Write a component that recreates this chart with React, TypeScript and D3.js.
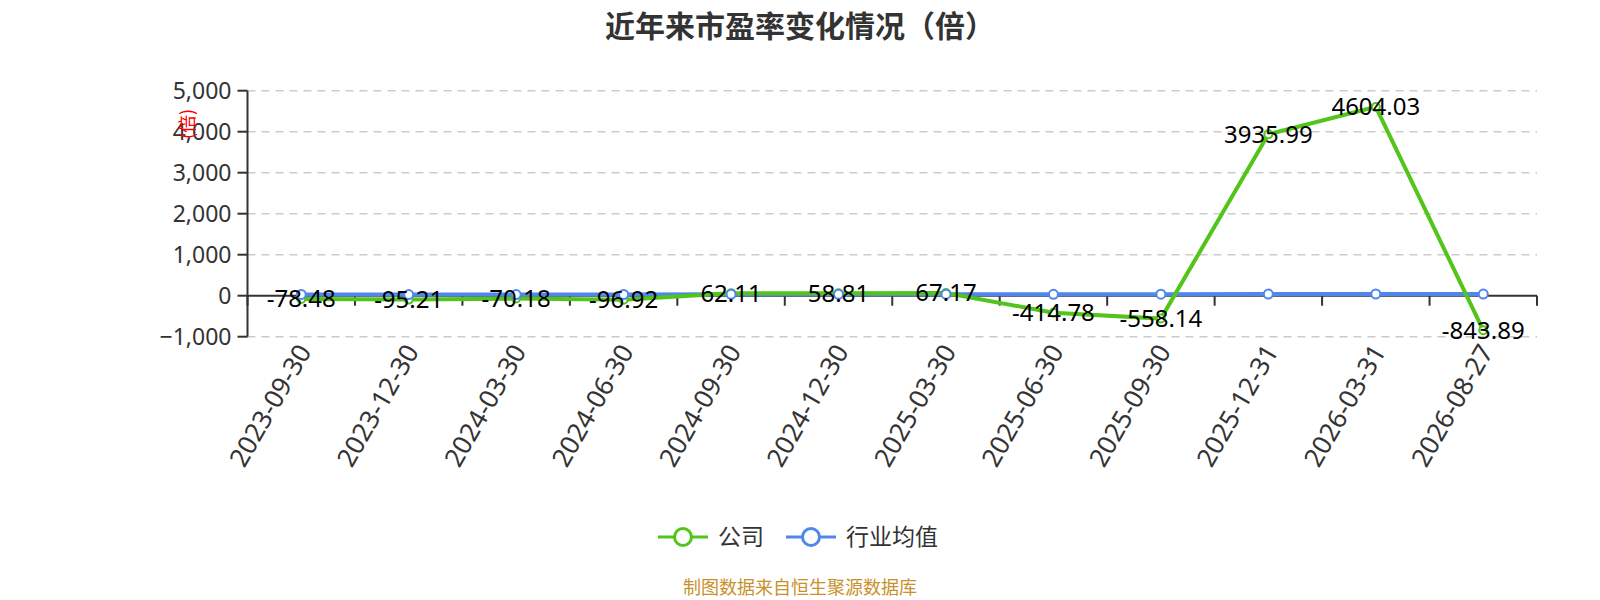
import React from "react";
import * as d3 from "d3";

const categories = [
  "2023-09-30", "2023-12-30", "2024-03-30", "2024-06-30", "2024-09-30", "2024-12-30",
  "2025-03-30", "2025-06-30", "2025-09-30", "2025-12-31", "2026-03-31", "2026-08-27",
];
const companyPE = [-78.48, -95.21, -70.18, -96.92, 62.11, 58.81, 67.17, -414.78, -558.14, 3935.99, 4604.03, -843.89];
const industryPE = [30.5, 28.7, 27.9, 29.4, 33.2, 35.1, 36.8, 34.6, 38.2, 40.1, 41.5, 39.8];
const yTicks = [-1000, 0, 1000, 2000, 3000, 4000, 5000];
const seriesNames = ["公司", "行业均值"];
const titleText = "近年来市盈率变化情况（倍）";
const footerText = "制图数据来自恒生聚源数据库";
const yAxisName = "(倍)";

const W = 1600;
const H = 600;
const GREEN = "#52c41a";
const BLUE = "#5087ec";
const FONT = "'Noto Sans', 'Noto Sans CJK SC', sans-serif";
const CJK = "'Noto Sans CJK SC', 'Noto Sans', sans-serif";

export default function App() {
  const left = 247.5;
  const right = 1537;
  const top = 90.7;
  const bottom = 336.7;

  const x = d3.scaleBand<string>().domain(categories).range([left, right]).padding(0);
  const y = d3.scaleLinear().domain([-1000, 5000]).range([bottom, top]);
  const cx = (c: string) => (x(c) as number) + x.bandwidth() / 2;

  const line = d3
    .line<number>()
    .x((_, i) => cx(categories[i]))
    .y((d) => y(d));

  const fmt = d3.format(",");
  const y0 = y(0);
  const boundaries = categories.map((c) => x(c) as number).concat([right]);

  return (
    <svg
      width={W}
      height={H}
      style={{ position: "absolute", left: 0, top: 0, background: "#fff" }}
      fontFamily={FONT}
    >
      <text x={800} y={37} textAnchor="middle" fontSize={30} fontWeight="bold" fill="#333" fontFamily={CJK}>
        {titleText}
      </text>

      {/* grid lines */}
      {yTicks.filter((t) => t !== 0).map((t) => (
        <line key={t} x1={left} x2={right} y1={y(t)} y2={y(t)} stroke="#ccc" strokeWidth={1.5} strokeDasharray="8,6" />
      ))}

      {/* y axis */}
      <line x1={left} x2={left} y1={top} y2={bottom} stroke="#333" strokeWidth={2} />
      {yTicks.map((t) => (
        <g key={t}>
          <line x1={left - 10} x2={left} y1={y(t)} y2={y(t)} stroke="#333" strokeWidth={2} />
          <text x={left - 16} y={y(t)} dy="0.35em" textAnchor="end" fontSize={23} fill="#333">
            {fmt(t)}
          </text>
        </g>
      ))}
      <text
        transform={`translate(188, 124) rotate(-90)`}
        textAnchor="middle"
        dy="0.35em"
        fontSize={18}
        fill="#ff0000"
        fontFamily={CJK}
      >
        {yAxisName}
      </text>

      {/* x axis at zero */}
      <line x1={left} x2={right} y1={y0} y2={y0} stroke="#333" strokeWidth={2} />
      {boundaries.map((b, i) => (
        <line key={i} x1={b} x2={b} y1={y0} y2={y0 + 10} stroke="#333" strokeWidth={2} />
      ))}
      {categories.map((c) => (
        <text
          key={c}
          transform={`translate(${cx(c) + 3}, ${bottom + 10}) rotate(-60)`}
          textAnchor="end"
          dy="0.35em"
          fontSize={26}
          fill="#333"
        >
          {c}
        </text>
      ))}

      {/* lines */}
      <path d={line(industryPE) || ""} fill="none" stroke={BLUE} strokeWidth={4} />
      <path d={line(companyPE) || ""} fill="none" stroke={GREEN} strokeWidth={4} />
      {companyPE.map((v, i) => (
        <circle key={"g" + i} cx={cx(categories[i])} cy={y(v)} r={4} fill="#fff" stroke={GREEN} strokeWidth={2} />
      ))}
      {industryPE.map((v, i) => (
        <circle key={"b" + i} cx={cx(categories[i])} cy={y(v)} r={4.5} fill="#fff" stroke={BLUE} strokeWidth={2} />
      ))}
      {companyPE.map((v, i) => (
        <text key={"l" + i} x={cx(categories[i])} y={y(v)} dy="0.35em" textAnchor="middle" fontSize={24} fill="#000">
          {v.toFixed(2)}
        </text>
      ))}

      {/* legend */}
      {seriesNames.map((n, i) => {
        const lx = i === 0 ? 658 : 786;
        const color = i === 0 ? GREEN : BLUE;
        const ly = 537;
        return (
          <g key={n}>
            <line x1={lx} x2={lx + 50} y1={ly} y2={ly} stroke={color} strokeWidth={3} />
            <circle cx={lx + 25} cy={ly} r={8.5} fill="#fff" stroke={color} strokeWidth={3} />
            <text x={lx + 60} y={ly} dy="0.35em" fontSize={23} fill="#333" fontFamily={CJK}>
              {n}
            </text>
          </g>
        );
      })}

      <text x={800} y={588} dy="0.35em" textAnchor="middle" fontSize={18} fill="#c8912a" fontFamily={CJK}>
        {footerText}
      </text>
    </svg>
  );
}
